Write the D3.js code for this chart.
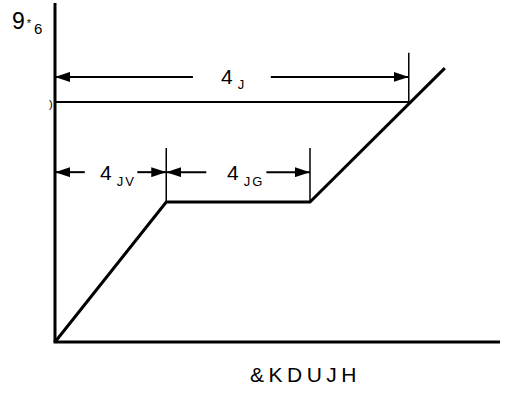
<!DOCTYPE html>
<html>
<head>
<meta charset="utf-8">
<script src="https://cdn.jsdelivr.net/npm/d3@7"></script>
<style>
  body { margin: 0; background: #fff; }
  text { font-family: "Liberation Sans", Arial, sans-serif; fill: #000; }
</style>
</head>
<body>
<div id="chart"></div>
<script>
// Gate charge curve (charge units, voltage units)
const curveCharge = [0, 25, 57.3, 87.6];
const curveVoltage = [0, 41.3, 41.3, 80.8];

// dimension markers
const qgLevel = 70.8;          // voltage where total charge is measured
const qgsCharge = 25;
const qgdCharge = 57.3;
const qgCharge = 79.5;

const yLabel = ["9", "*", "6"];
const xLabel = "&KDUJH";
const qgLabel = ["4", "J"];
const qgsLabel = ["4", "JV"];
const qgdLabel = ["4", "JG"];

const width = 507, height = 393;

const svg = d3.select("#chart")
    .append("svg")
    .attr("width", width)
    .attr("height", height);

const x = d3.scaleLinear().domain([0, 100]).range([55, 500]);
const y = d3.scaleLinear().domain([0, 100]).range([342, 3]);

// arrow marker
svg.append("defs").append("marker")
    .attr("id", "arrow")
    .attr("viewBox", "0 0 15 10")
    .attr("refX", 15)
    .attr("refY", 5)
    .attr("markerWidth", 15)
    .attr("markerHeight", 10)
    .attr("markerUnits", "userSpaceOnUse")
    .attr("orient", "auto-start-reverse")
    .append("path")
    .attr("d", "M0,0 L15,5 L0,10 Z")
    .attr("fill", "#000");

// axes (plain lines, no ticks)
svg.append("line")
    .attr("x1", x(0)).attr("x2", x(0))
    .attr("y1", y(100)).attr("y2", y(0))
    .attr("stroke", "#000").attr("stroke-width", 3);
svg.append("line")
    .attr("x1", x(0) - 1.5).attr("x2", x(100))
    .attr("y1", y(0)).attr("y2", y(0))
    .attr("stroke", "#000").attr("stroke-width", 3);

// curve
const line = d3.line().x(d => x(d[0])).y(d => y(d[1]));
svg.append("path")
    .datum(d3.zip(curveCharge, curveVoltage))
    .attr("d", line)
    .attr("fill", "none")
    .attr("stroke", "#000")
    .attr("stroke-width", 3)
    .attr("stroke-linejoin", "miter");

// Qg level line
svg.append("line")
    .attr("x1", x(0)).attr("x2", x(qgCharge))
    .attr("y1", y(qgLevel)).attr("y2", y(qgLevel))
    .attr("stroke", "#000").attr("stroke-width", 2);

// extension lines
const ext = [
    {q: qgCharge, top: 85.3, bottom: qgLevel},
    {q: qgsCharge, top: 57.2, bottom: 41.3},
    {q: qgdCharge, top: 57.2, bottom: 41.3}
];
svg.selectAll(".ext")
    .data(ext)
    .join("line")
    .attr("x1", d => x(d.q)).attr("x2", d => x(d.q))
    .attr("y1", d => y(d.top)).attr("y2", d => y(d.bottom))
    .attr("stroke", "#000").attr("stroke-width", 1.5);

// dimension arrows: [from, to] in charge units, arrow head at "to"
const arrows = [
    {from: 31, to: 0, v: 78.2},
    {from: 48.5, to: qgCharge, v: 78.2},
    {from: 6.7, to: 0, v: 50.1},
    {from: 18.5, to: qgsCharge, v: 50.1},
    {from: 34, to: qgsCharge, v: 50.1},
    {from: 47.5, to: qgdCharge, v: 50.1}
];
svg.selectAll(".arr")
    .data(arrows)
    .join("line")
    .attr("x1", d => x(d.from)).attr("x2", d => x(d.to))
    .attr("y1", d => y(d.v)).attr("y2", d => y(d.v))
    .attr("stroke", "#000").attr("stroke-width", 2)
    .attr("marker-end", "url(#arrow)");

// labels with subscripts
function subLabel(px, py, parts, size, subSize, dy, spacing) {
    const t = svg.append("text")
        .attr("x", px).attr("y", py)
        .attr("font-size", size);
    t.append("tspan").text(parts[0]);
    t.append("tspan")
        .attr("font-size", subSize)
        .attr("dx", 5)
        .attr("dy", dy)
        .attr("letter-spacing", spacing)
        .text(parts[1]);
}
subLabel(221, 84, qgLabel, 21, 13, 5, 2);
subLabel(100, 180, qgsLabel, 21, 13, 6, 2);
subLabel(227, 180, qgdLabel, 21, 13, 6, 2);

// y label
const yl = svg.append("text").attr("x", 12).attr("y", 29).attr("font-size", 23);
yl.append("tspan").text(yLabel[0]);
yl.append("tspan").attr("font-size", 11).attr("dx", 2).attr("dy", -2).text(yLabel[1]);
yl.append("tspan").attr("font-size", 15).attr("dx", 3).attr("dy", 7).text(yLabel[2]);

// small stray glyph near the Qg level line
svg.append("text")
    .attr("x", 49).attr("y", 108)
    .attr("font-size", 11)
    .text(")");

// x label
svg.append("text")
    .attr("x", 250).attr("y", 382)
    .attr("font-size", 21)
    .attr("letter-spacing", 4.5)
    .text(xLabel);
</script>
</body>
</html>
